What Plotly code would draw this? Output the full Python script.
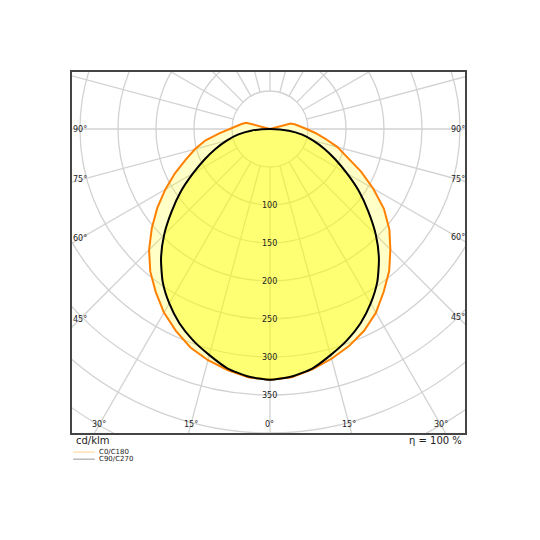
import numpy as np
import plotly.graph_objects as go

# Luminous intensity distribution (cd/klm), gamma angle measured from nadir
gamma_c0 = [0, 5, 10, 15, 20, 25, 30, 35, 40, 45, 50, 55, 60, 65, 70, 75, 80, 85, 90, 95, 100, 105, 110]
c0 = [330, 328, 321, 313, 304, 293, 279, 261, 244, 224, 205, 183, 157, 132, 108, 92, 74, 60, 48, 40, 34, 28, 0]
c180 = [330, 328, 322, 315, 306, 293, 279, 262, 245, 225, 203, 181, 159, 138, 118, 102, 86, 67, 51, 44, 38, 32, 0]

gamma_c90 = [0, 5, 10, 15, 20, 25, 30, 35, 40, 45, 50, 55, 60, 65, 70, 75, 80, 85, 90]
c90_c270 = [330, 327, 320, 308, 296, 282, 265, 246, 223, 197, 169, 143, 117, 95, 76, 59, 43, 25, 0]

radial_ticks = [100, 150, 200, 250, 300, 350]
grid_radii = [50, 100, 150, 200, 250, 300, 350, 400, 450, 500, 550]
spoke_angles = list(range(0, 360, 15))
left_labels = [90, 75, 60, 45]
bottom_labels = [30, 15, 0, 15, 30]
bottom_signs = [-1, -1, 0, 1, 1]
legend_names = ["C0/C180", "C90/C270"]
legend_colors = ["#ffd9a0", "#a8a8a8"]

FONT = "DejaVu Sans"

def half(gam, vals, side):
    g = np.radians(np.array(gam, dtype=float))
    v = np.array(vals, dtype=float)
    return side * v * np.sin(g), -v * np.cos(g)

# orange C0/C180 curve: left half C180, right half C0
xl, yl = half(gamma_c0, c180, -1)
xr, yr = half(gamma_c0, c0, 1)
xo = np.concatenate([xl[::-1], xr[1:]])
yo = np.concatenate([yl[::-1], yr[1:]])

xbl, ybl = half(gamma_c90, c90_c270, -1)
xbr, ybr = half(gamma_c90, c90_c270, 1)
xb = np.concatenate([xbl[::-1], xbr[1:]])
yb = np.concatenate([ybl[::-1], ybr[1:]])

fig = go.Figure()
fig.add_trace(go.Scatter(x=xo, y=yo, mode="lines", fill="toself",
                         fillcolor="rgba(255,255,0,0.22)",
                         line=dict(color="#ff8000", width=2), showlegend=False, hoverinfo="skip"))
fig.add_trace(go.Scatter(x=xb, y=yb, mode="lines", fill="toself",
                         fillcolor="rgba(255,255,0,0.42)",
                         line=dict(color="#000000", width=2, shape="spline", smoothing=0.6),
                         showlegend=False, hoverinfo="skip"))

shapes = []
gridc = "#d2d2d2"
for r in grid_radii:
    shapes.append(dict(type="circle", xref="x", yref="y", x0=-r, x1=r, y0=-r, y1=r,
                       line=dict(color=gridc, width=1.3), layer="below"))
for a in spoke_angles:
    t = np.radians(a)
    r0, r1 = 50, 700
    shapes.append(dict(type="line", xref="x", yref="y",
                       x0=r0 * np.sin(t), y0=-r0 * np.cos(t),
                       x1=r1 * np.sin(t), y1=-r1 * np.cos(t),
                       line=dict(color=gridc, width=1.3), layer="below"))

annotations = []
for r in radial_ticks:
    annotations.append(dict(x=0, y=-r, xref="x", yref="y", text=str(r), showarrow=False,
                            font=dict(family=FONT, size=8, color="#222")))
for a in left_labels:
    t = np.radians(a)
    for xs in (-250, 248):
        annotations.append(dict(x=xs, y=-abs(xs) / np.tan(t) if a != 90 else 0,
                                xref="x", yref="y", text=f"{a}°", showarrow=False,
                                font=dict(family=FONT, size=8, color="#222")))
for a, s in zip(bottom_labels, bottom_signs):
    annotations.append(dict(x=s * 389 * np.tan(np.radians(a)), y=-389, xref="x", yref="y",
                            text=f"{a}°", showarrow=False,
                            font=dict(family=FONT, size=8, color="#222")))

annotations.append(dict(x=0.006, y=-0.02, xref="paper", yref="paper", text="cd/klm",
                        xanchor="left", yanchor="middle", showarrow=False,
                        font=dict(family=FONT, size=10, color="#222")))
annotations.append(dict(x=0.998, y=-0.02, xref="paper", yref="paper", text="η = 100 %",
                        xanchor="right", yanchor="middle", showarrow=False,
                        font=dict(family=FONT, size=10, color="#222")))
for i, (nm, col) in enumerate(zip(legend_names, legend_colors)):
    yy = -0.053 - i * 0.0195
    shapes.append(dict(type="line", xref="paper", yref="paper", x0=0.003, x1=0.058, y0=yy, y1=yy,
                       line=dict(color=col, width=1.2)))
    annotations.append(dict(x=0.064, y=yy, xref="paper", yref="paper", text=nm,
                            xanchor="left", yanchor="middle", showarrow=False,
                            font=dict(family=FONT, size=7, color="#222")))

fig.update_layout(
    width=540, height=540,
    margin=dict(l=64, r=83, t=64, b=115),
    paper_bgcolor="white", plot_bgcolor="white",
    shapes=shapes, annotations=annotations, showlegend=False,
    xaxis=dict(range=[-260.5, 256.6], showgrid=False, zeroline=False, showticklabels=False,
               ticks="", showline=True, mirror=True, linecolor="#444", linewidth=2, fixedrange=True),
    yaxis=dict(range=[-400, 75], showgrid=False, zeroline=False, showticklabels=False,
               ticks="", showline=True, mirror=True, linecolor="#444", linewidth=2, fixedrange=True),
)
fig.write_html("out.html")
